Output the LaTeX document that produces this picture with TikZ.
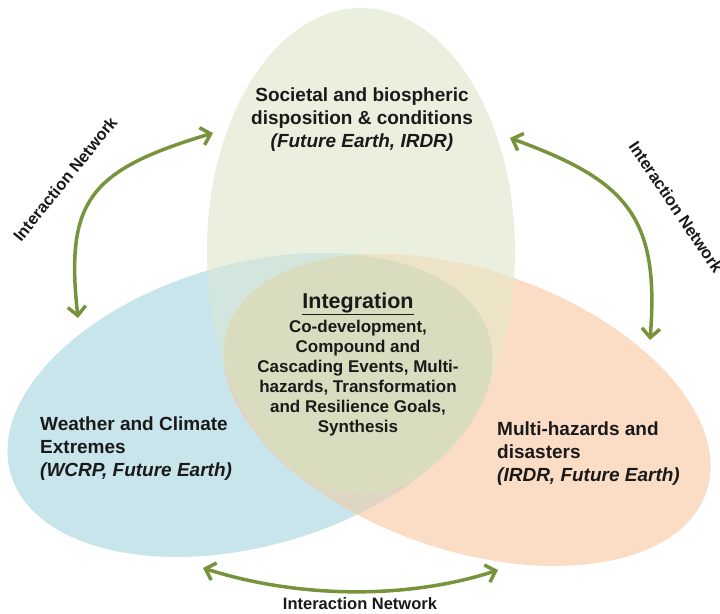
\documentclass[tikz,border=0pt]{standalone}
\usepackage{fontspec}
\setmainfont{Liberation Sans}
\usetikzlibrary{arrows.meta}
\definecolor{gfill}{HTML}{EBF0DE}
\definecolor{bfill}{HTML}{C9E5EC}
\definecolor{ofill}{HTML}{FBDCC5}
\definecolor{gbfill}{HTML}{D3E6DD}
\definecolor{gofill}{HTML}{EDE4C8}
\definecolor{bofill}{HTML}{DED5C2}
\definecolor{allfill}{HTML}{DADCBF}
\definecolor{arrowgreen}{HTML}{77933C}
\definecolor{txt}{HTML}{1A1A1A}
\tikzset{
  link/.style={draw=arrowgreen, line width=3.5pt,
    {Straight Barb[length=9pt,width=18pt]}-{Straight Barb[length=9pt,width=18pt]}},
  netlabel/.style={font=\fontsize{16.5}{18}\selectfont\bfseries, text=txt, inner sep=0pt},
  mainlabel/.style={font=\fontsize{19}{23}\selectfont\bfseries, text=txt, inner sep=0pt},
  intlabel/.style={font=\fontsize{17}{20}\selectfont\bfseries, text=txt, inner sep=0pt, align=center}
}
\def\ellG{(361,-251) ellipse [x radius=154, y radius=243]}
\def\ellB{(250,-405) ellipse [x radius=249, y radius=141, rotate=16]}
\def\ellO{(467,-410) ellipse [x radius=253, y radius=140, rotate=-19]}
\begin{document}
\begin{tikzpicture}[x=1pt,y=1pt]
\useasboundingbox (0,0) rectangle (720,-613);
% ellipses
\fill[gfill] \ellG;
\fill[bfill] \ellB;
\fill[ofill] \ellO;
\begin{scope}\clip \ellB; \fill[bofill] \ellO; \end{scope}
\begin{scope}\clip \ellB; \fill[gbfill] \ellG; \end{scope}
\begin{scope}\clip \ellO; \fill[gofill] \ellG; \end{scope}
\begin{scope}\clip \ellO; \clip \ellB; \fill[allfill] \ellG; \end{scope}
% texts
\node[mainlabel, align=center] (soc) at (362,-120)
  {Societal and biospheric\\disposition \& conditions\\\itshape (Future Earth, IRDR)};
\node[mainlabel, align=left, anchor=west] (wea) at (40,-449)
  {Weather and Climate\\Extremes\\\itshape (WCRP, Future Earth)};
\node[mainlabel, align=left, anchor=west] (mul) at (497,-454)
  {Multi-hazards and\\disasters\\\itshape (IRDR, Future Earth)};
\node[font=\fontsize{21.5}{24}\selectfont\bfseries, text=txt, inner sep=0pt] (intt) at (358,-304)
  {\underline{Integration}};
\node[intlabel] (intb) at (358,-378)
  {Co-development,\\Compound and\\Cascading Events, Multi-\\hazards, Transformation\\and Resilience Goals,\\Synthesis};
% interaction arrows
\coordinate (l1) at (213,-133);
\coordinate (l2) at (78,-318);
\coordinate (r1) at (510,-138);
\coordinate (r2) at (650,-340);
\coordinate (b1) at (203,-568);
\coordinate (b2) at (498,-570);
\draw[link] (l1) .. controls (90,-170) and (65,-200) .. (l2);
\draw[link] (r1) .. controls (625,-180) and (660,-215) .. (r2);
\draw[link] (b1) .. controls (300,-599) and (410,-599) .. (b2);
\node[netlabel, rotate=51] (nl) at (65,-179) {Interaction Network};
\node[netlabel, rotate=-56] (nr) at (676,-207) {Interaction Network};
\node[netlabel] (nb) at (360,-604) {Interaction Network};
\end{tikzpicture}
\end{document}
